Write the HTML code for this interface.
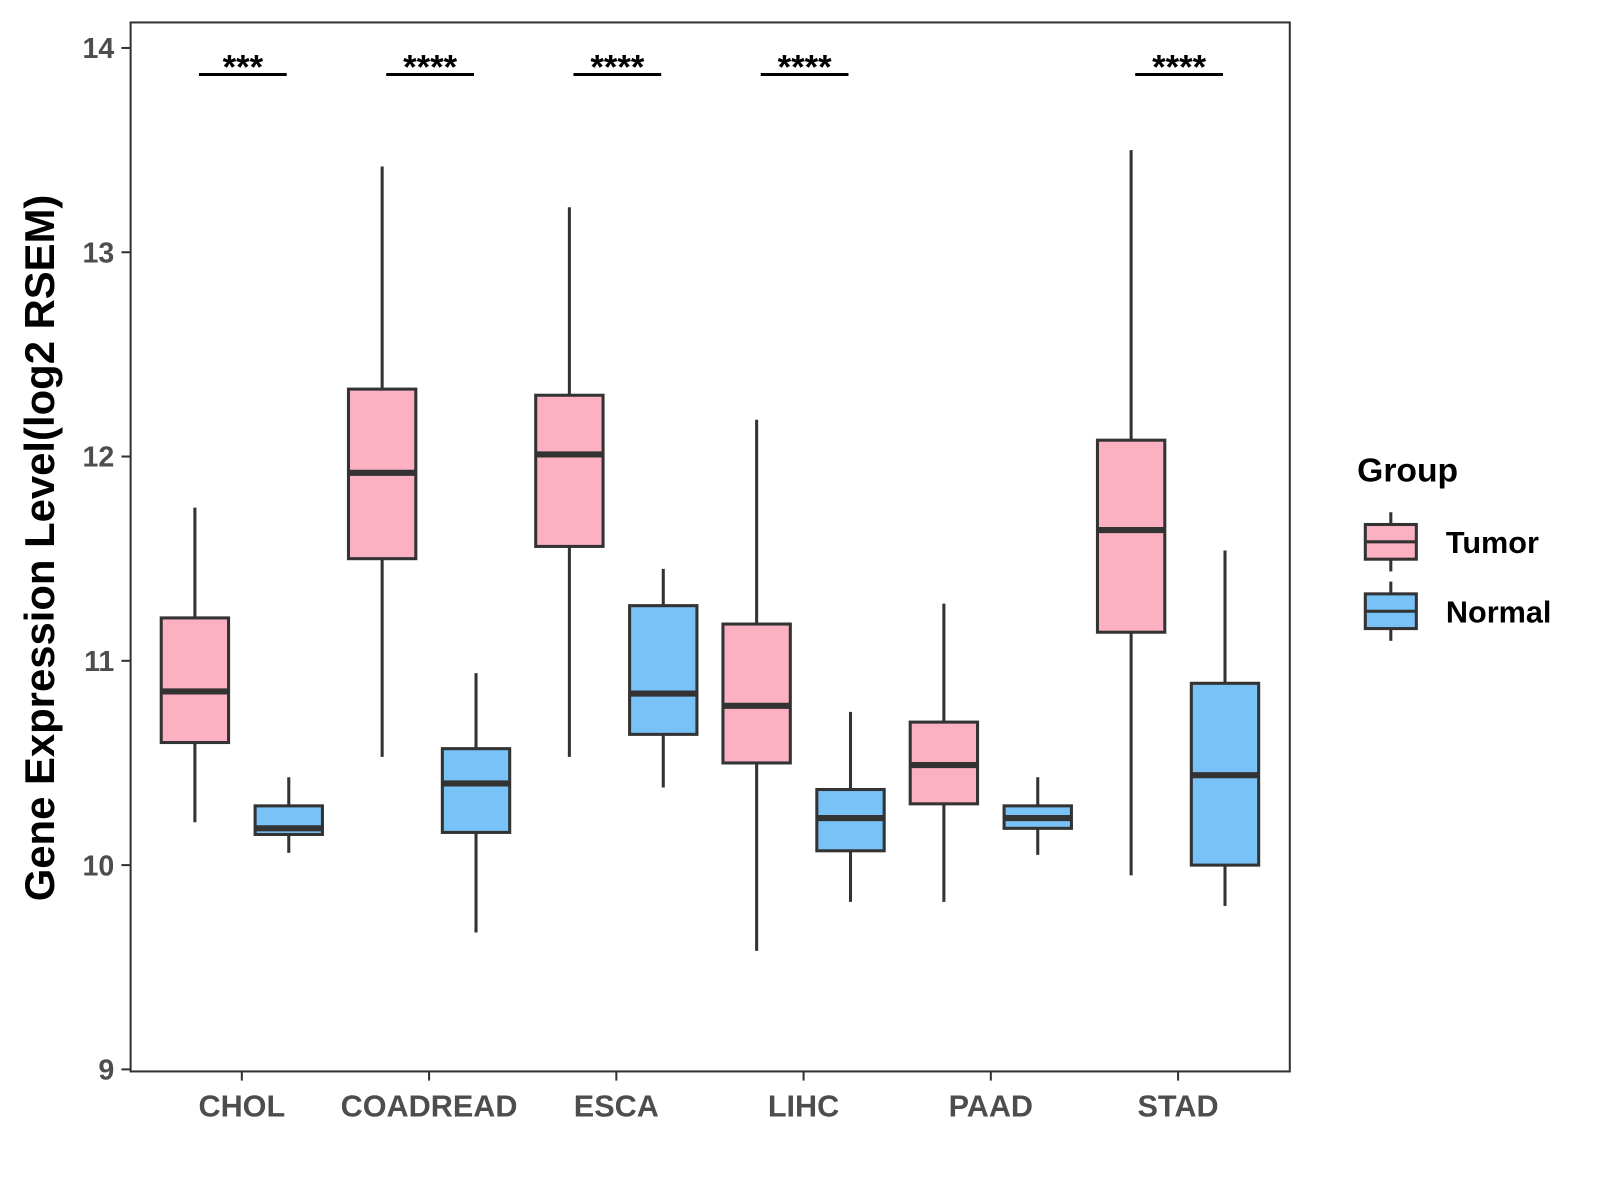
<!DOCTYPE html>
<html><head><meta charset="utf-8"><style>
body{margin:0;background:#fff;}
svg text{font-family:"Liberation Sans",Arial,sans-serif;font-weight:bold;}
</style></head><body>
<svg id="chart" width="1600" height="1200" viewBox="0 0 1568 1176" xmlns="http://www.w3.org/2000/svg" style="display:block">
<rect width="1568" height="1176" fill="#fff"/>
<g id="marks"></g>
<rect x="128" y="22" width="1136" height="1028" fill="none" stroke="#333" stroke-width="2"/>
<g id="axes"></g>
<text transform="translate(53,537) rotate(-90)" text-anchor="middle" font-size="41" fill="#000">Gene Expression Level(log2 RSEM)</text>
<g>
<text x="1330" y="472" font-size="33" fill="#000">Group</text>
<g>
<line x1="1363" y1="502" x2="1363" y2="514" stroke="#333" stroke-width="3"/>
<line x1="1363" y1="548" x2="1363" y2="560" stroke="#333" stroke-width="3"/>
<rect x="1338" y="514" width="50" height="34" fill="#FBB1C2" stroke="#333" stroke-width="3"/>
<line x1="1338" y1="531" x2="1388" y2="531" stroke="#333" stroke-width="3"/>
<text x="1417" y="542" font-size="30" fill="#000">Tumor</text></g>
<g>
<line x1="1363" y1="570" x2="1363" y2="582" stroke="#333" stroke-width="3"/>
<line x1="1363" y1="616" x2="1363" y2="628" stroke="#333" stroke-width="3"/>
<rect x="1338" y="582" width="50" height="34" fill="#78C2F8" stroke="#333" stroke-width="3"/>
<line x1="1338" y1="599" x2="1388" y2="599" stroke="#333" stroke-width="3"/>
<text x="1417" y="610" font-size="30" fill="#000">Normal</text></g>
</g>
</svg>
<script>
const categories=["CHOL","COADREAD","ESCA","LIHC","PAAD","STAD"];
const tumorMin=[10.21,10.53,10.53,9.58,9.82,9.95];
const tumorQ1=[10.60,11.50,11.56,10.50,10.30,11.14];
const tumorMed=[10.85,11.92,12.01,10.78,10.49,11.64];
const tumorQ3=[11.21,12.33,12.30,11.18,10.70,12.08];
const tumorMax=[11.75,13.42,13.22,12.18,11.28,13.50];
const normalMin=[10.06,9.67,10.38,9.82,10.05,9.80];
const normalQ1=[10.15,10.16,10.64,10.07,10.18,10.00];
const normalMed=[10.18,10.40,10.84,10.23,10.23,10.44];
const normalQ3=[10.29,10.57,11.27,10.37,10.29,10.89];
const normalMax=[10.43,10.94,11.45,10.75,10.43,11.54];
const sigLabels=["***","****","****","****","","****"];
const yTicks=[9,10,11,12,13,14];

const NS="http://www.w3.org/2000/svg";
const yS=v=>1048-(v-9)*200.2;
const xS=i=>237+i*183.5;
function mk(parent,tag,attrs){const e=document.createElementNS(NS,tag);for(const k in attrs)e.setAttribute(k,attrs[k]);parent.appendChild(e);return e;}
const marks=document.getElementById('marks');
const axes=document.getElementById('axes');
const groups=[
 {name:'tumor',off:-46,fill:'#FBB1C2',mn:tumorMin,q1:tumorQ1,md:tumorMed,q3:tumorQ3,mx:tumorMax},
 {name:'normal',off:46,fill:'#78C2F8',mn:normalMin,q1:normalQ1,md:normalMed,q3:normalQ3,mx:normalMax}];
categories.forEach((c,i)=>{
 groups.forEach(g=>{
  const cx=xS(i)+g.off,w=66;
  const gr=mk(marks,'g',{});
  
  
  mk(gr,'line',{x1:cx,x2:cx,y1:yS(g.mx[i]),y2:yS(g.q3[i]),stroke:'#333','stroke-width':3});
  mk(gr,'line',{x1:cx,x2:cx,y1:yS(g.q1[i]),y2:yS(g.mn[i]),stroke:'#333','stroke-width':3});
  mk(gr,'rect',{x:cx-w/2,y:yS(g.q3[i]),width:w,height:yS(g.q1[i])-yS(g.q3[i]),fill:g.fill,stroke:'#333','stroke-width':3});
  mk(gr,'line',{x1:cx-w/2,x2:cx+w/2,y1:yS(g.md[i]),y2:yS(g.md[i]),stroke:'#333','stroke-width':6});
 });
 if(sigLabels[i]){
  const s=mk(marks,'g',{});
  
  
  mk(s,'line',{x1:xS(i)-42,x2:xS(i)+44,y1:73,y2:73,stroke:'#000','stroke-width':3});
  const t=mk(s,'text',{x:xS(i)+1,y:77,'text-anchor':'middle','font-size':34,fill:'#000'});t.textContent=sigLabels[i];
 }
 const tk=mk(axes,'line',{x1:xS(i),x2:xS(i),y1:1050,y2:1059,stroke:'#333','stroke-width':2});
 
 
 const lb=mk(axes,'text',{x:xS(i),y:1094,'text-anchor':'middle','font-size':30,fill:'#4d4d4d'});
 
 
 lb.textContent=c;
});
yTicks.forEach(v=>{
 const tk=mk(axes,'line',{x1:119,x2:128,y1:yS(v),y2:yS(v),stroke:'#333','stroke-width':2});
 
 
 const lb=mk(axes,'text',{x:112,y:yS(v)+10,'text-anchor':'end','font-size':28,fill:'#4d4d4d'});
 
 
 lb.textContent=v;
});
</script>
</body></html>
